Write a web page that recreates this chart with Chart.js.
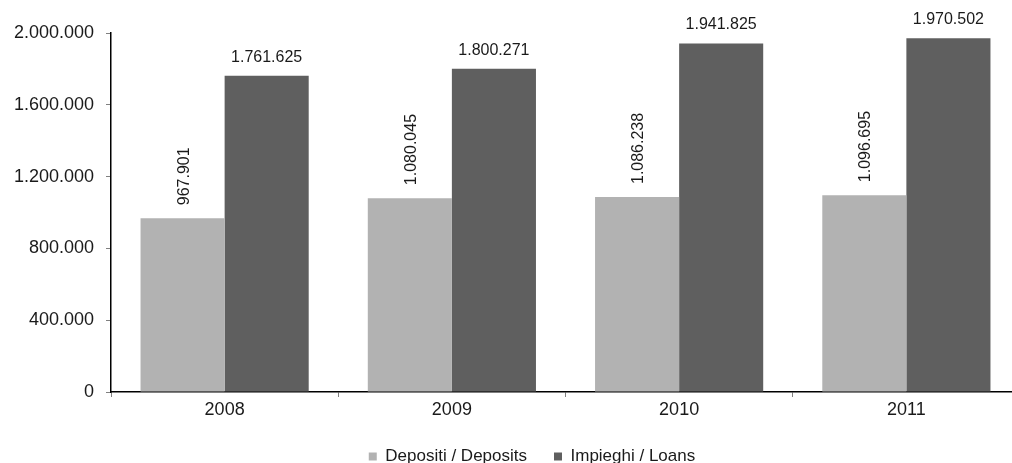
<!DOCTYPE html>
<html>
<head>
<meta charset="utf-8">
<script src="https://cdn.jsdelivr.net/npm/chart.js@4"></script>
<style>
  html, body { margin: 0; padding: 0; background: #fff; overflow: hidden; }
  #wrap { width: 1012px; height: 463px; overflow: hidden; }
  #box { width: 1020px; height: 463px; }
</style>
</head>
<body>
<div id="wrap"><div id="box"><canvas id="grafico"></canvas></div></div>
<script>
// dati
const anni = ['2008', '2009', '2010', '2011'];
const depositi = [967901, 1080045, 1086238, 1096695];
const impieghi = [1761625, 1800271, 1941825, 1970502];
const tickY = [0, 400000, 800000, 1200000, 1600000, 2000000];

const FONT = '"Liberation Sans", Arial, sans-serif';

// formato italiano con il punto come separatore delle migliaia
const fmt = (v) => String(v).replace(/\B(?=(\d{3})+(?!\d))/g, '.');

// etichette sopra le barre (prima serie ruotata, seconda orizzontale)
const etichette = {
    id: 'etichette',
    afterDatasetsDraw(chart) {
        const ctx = chart.ctx;
        ctx.save();
        ctx.fillStyle = '#1a1a1a';
        ctx.font = '16px ' + FONT;
        chart.data.datasets.forEach((ds, i) => {
            chart.getDatasetMeta(i).data.forEach((bar, j) => {
                const testo = fmt(ds.data[j]);
                if (i === 0) {
                    ctx.save();
                    ctx.translate(bar.x + 6, bar.y - 13);
                    ctx.rotate(-Math.PI / 2);
                    ctx.textAlign = 'left';
                    ctx.textBaseline = 'alphabetic';
                    ctx.fillText(testo, 0, 0);
                    ctx.restore();
                } else {
                    ctx.textAlign = 'center';
                    ctx.textBaseline = 'alphabetic';
                    ctx.fillText(testo, bar.x, bar.y - 14);
                }
            });
        });
        ctx.restore();
    }
};

// la legenda nell'originale è un po' spostata a destra e in alto
const spostaLegenda = {
    id: 'spostaLegenda',
    afterLayout(chart) {
        const l = chart.legend;
        l.left += 22; l.right += 22;
        l.top -= 3; l.bottom -= 3;
    }
};

new Chart(document.getElementById('grafico'), {
    type: 'bar',
    data: {
        labels: anni,
        datasets: [
            { label: 'Depositi / Deposits', data: depositi, backgroundColor: '#b2b2b2' },
            { label: 'Impieghi / Loans', data: impieghi, backgroundColor: '#5f5f5f' }
        ]
    },
    options: {
        responsive: true,
        maintainAspectRatio: false,
        animation: false,
        devicePixelRatio: 1,
        categoryPercentage: 0.74,
        barPercentage: 1,
        layout: { padding: { top: 33, left: 0, right: 0, bottom: -15 } },
        plugins: {
            tooltip: { enabled: false },
            legend: {
                position: 'bottom',
                labels: {
                    boxWidth: 8, boxHeight: 8,
                    color: '#1a1a1a',
                    font: { family: FONT, size: 17 },
                    padding: 27
                }
            }
        },
        scales: {
            x: {
                offset: true,
                grid: { display: true, offset: true, drawOnChartArea: false, tickLength: 5, color: '#808080' },
                border: { display: true, color: '#000', width: 1.5 },
                ticks: { color: '#1a1a1a', font: { family: FONT, size: 18 }, padding: 2 },
                afterFit(scale) { scale.height = 32; }
            },
            y: {
                min: 0,
                max: 2000000,
                afterFit(scale) { scale.width = 111; },
                afterBuildTicks(scale) { scale.ticks = tickY.map(v => ({ value: v })); },
                grid: { display: true, drawOnChartArea: false, tickLength: 5, color: '#808080' },
                border: { display: true, color: '#000', width: 1.5 },
                ticks: { color: '#1a1a1a', font: { family: FONT, size: 18 }, padding: 12, callback: (v) => fmt(v) }
            }
        }
    },
    plugins: [etichette, spostaLegenda]
});
</script>
</body>
</html>
